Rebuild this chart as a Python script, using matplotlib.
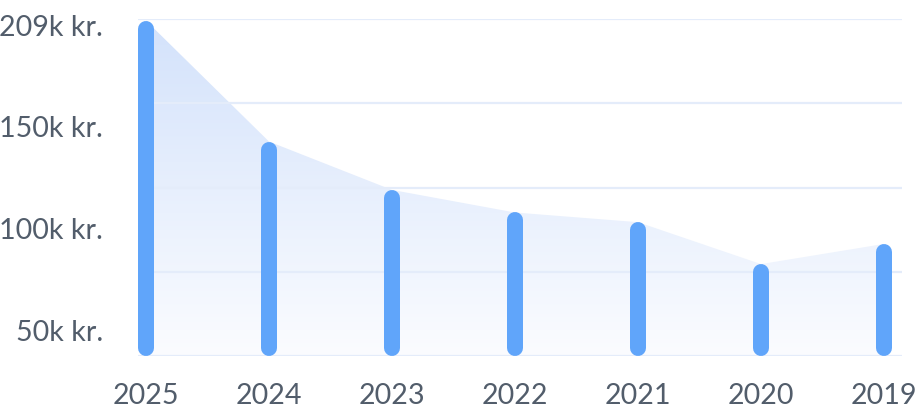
import numpy as np
import matplotlib
matplotlib.use("Agg")
import matplotlib.pyplot as plt
from matplotlib.patches import Polygon
from matplotlib.colors import LinearSegmentedColormap

# data (in thousands of kr.)
years = ["2025", "2024", "2023", "2022", "2021", "2020", "2019"]
values = [208, 133, 103, 89, 83, 57, 69.5]
y_labels = ["209k kr.", "150k kr.", "100k kr.", "50k kr."]

y_max = 209
bar_color = "#60a5fa"
grid_color = "#e4ecfa"
text_color = "#525d6b"

plt.rcParams["font.family"] = ["Lato", "DejaVu Sans"]

W, H, DPI = 918, 418, 100
fig = plt.figure(figsize=(W / DPI, H / DPI), dpi=DPI)
ax = fig.add_axes([138 / W, (H - 356) / H, 764 / W, 337 / H])

x = np.arange(len(years))
ax.set_xlim(-8 / 123, len(years) - 1 + 18 / 123)
ax.set_ylim(0, y_max)

# gradient area under the tops
cmap = LinearSegmentedColormap.from_list("fade", ["#fbfcff", "#d3e2fb"])
grad = np.linspace(0, 1, 256).reshape(-1, 1)
img = ax.imshow(grad, cmap=cmap, aspect="auto", origin="lower",
                extent=[x[0], x[-1], 0, y_max], zorder=1)
poly_pts = [(x[0], 0)] + list(zip(x, values)) + [(x[-1], 0)]
clip = Polygon(poly_pts, closed=True, transform=ax.transData, facecolor="none", edgecolor="none")
ax.add_patch(clip)
img.set_clip_path(clip)

# grid lines
for g in np.linspace(0, y_max, 5):
    ax.axhline(g, color=grid_color, lw=1.6, zorder=2)

# rounded bars
bar_px = 16
r = (bar_px / 2) / 337 * y_max
for xi, v in zip(x, values):
    ax.plot([xi, xi], [r, v - r], color=bar_color, lw=bar_px * 72 / DPI,
            solid_capstyle="round", zorder=3)

for s in ax.spines.values():
    s.set_visible(False)

ax.set_xticks(x)
ax.set_xticklabels(years)
tick_fracs = np.linspace(0.982, 0.077, len(y_labels))
ax.set_yticks(tick_fracs * y_max)
ax.set_yticklabels(y_labels)
ax.tick_params(axis="both", length=0, labelsize=20.6, labelcolor=text_color)
ax.tick_params(axis="y", pad=25)
ax.tick_params(axis="x", pad=19.5)

fig.savefig("out.png", dpi=DPI, facecolor="white")
